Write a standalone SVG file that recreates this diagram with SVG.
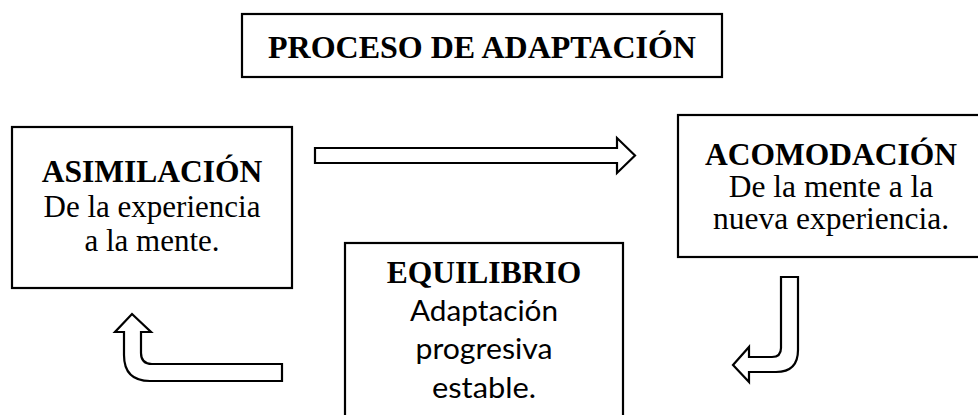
<svg xmlns="http://www.w3.org/2000/svg" width="978" height="415" viewBox="0 0 978 415">
<style>
.box{fill:#fff;stroke:#000;stroke-width:2.2}
.arr{fill:#fff;stroke:#000;stroke-width:2.2;stroke-linejoin:miter}
.t{font-family:"Liberation Serif","Times New Roman",serif;fill:#000;text-anchor:middle}
.b{font-weight:bold}
.c{font-family:Lato,"Open Sans",sans-serif;fill:#000;text-anchor:middle;font-size:29px}
</style>
<rect width="978" height="415" fill="#fff"/>
<g id="title">
<rect class="box" x="242" y="14" width="480" height="63"/>
<text class="t b" x="482" y="58" font-size="32">PROCESO DE ADAPTACIÓN</text>
</g>
<g id="asimilacion">
<rect class="box" x="12" y="127" width="280" height="161"/>
<text class="t b" x="152" y="182" font-size="31.5">ASIMILACIÓN</text>
<text class="t" x="152" y="217" font-size="31">De la experiencia</text>
<text class="t" x="152" y="251" font-size="31">a la mente.</text>
</g>
<g id="acomodacion">
<rect class="box" x="678" y="115" width="310" height="142"/>
<text class="t b" x="831" y="165" font-size="31.5">ACOMODACIÓN</text>
<text class="t" x="831" y="197" font-size="31.5">De la mente a la</text>
<text class="t" x="831" y="229" font-size="31.5">nueva experiencia.</text>
</g>
<g id="equilibrio">
<rect class="box" x="345" y="243" width="278" height="185"/>
<text class="t b" x="484" y="283" font-size="31.5">EQUILIBRIO</text>
<text class="c" x="484" y="321" textLength="148" lengthAdjust="spacingAndGlyphs">Adaptación</text>
<text class="c" x="484" y="359" textLength="137" lengthAdjust="spacingAndGlyphs">progresiva</text>
<text class="c" x="484" y="398" textLength="104" lengthAdjust="spacingAndGlyphs">estable.</text>
</g>
<g id="connectors">
<path class="arr" d="M315,148 L617,148 L617,138 L635,155.5 L617,173 L617,163 L315,163 Z"/>
<path class="arr" d="M781,277 L798,277 L798,350 Q798,372 776,372 L749,372 L749,382 L733,365 L749,347 L749,357 L772,357 Q781,357 781,348 Z"/>
<path class="arr" d="M132,314 L151,332 L141,332 L141,353 Q141,364 152,364 L282,364 L282,381 L150,381 Q124,381 124,355 L124,332 L115,332 Z"/>
</g>
</svg>
